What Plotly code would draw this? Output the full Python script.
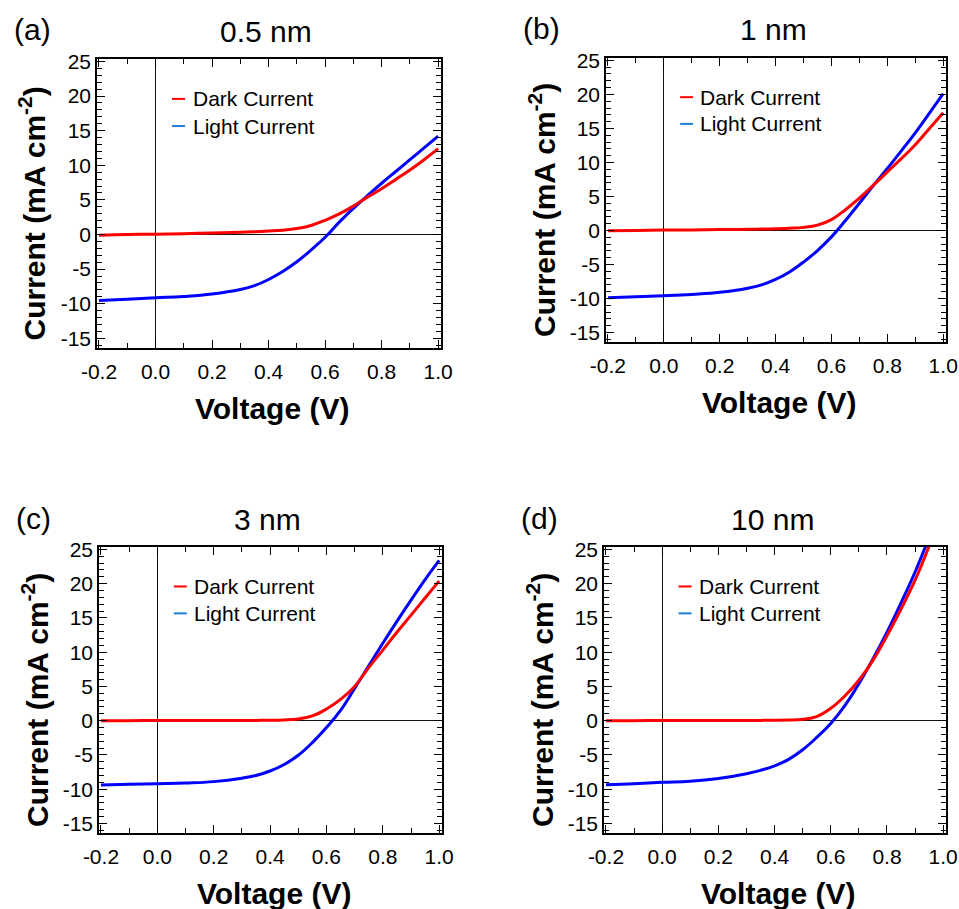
import plotly.graph_objects as go

FONT = "Liberation Sans, Arial, Helvetica, sans-serif"

# Bias voltage (V) at which current density was sampled
voltage = [-0.2, -0.1, 0.0, 0.1, 0.2, 0.3, 0.35, 0.4, 0.45, 0.5,
           0.55, 0.6, 0.65, 0.7, 0.75, 0.8, 0.85, 0.9, 0.95, 1.0]
voltage_10nm = [-0.2, -0.1, 0.0, 0.1, 0.2, 0.3, 0.35, 0.4, 0.45, 0.5,
                0.55, 0.6, 0.65, 0.7, 0.75, 0.8, 0.85, 0.9, 0.95]

# Current density (mA cm^-2), dark and illuminated, per interlayer thickness
dark_05nm = [-0.1, 0.0, 0.05, 0.12, 0.22, 0.32, 0.4, 0.5, 0.62, 0.85,
             1.3, 2.05, 2.97, 4.1, 5.4, 6.6, 7.95, 9.3, 10.8, 12.4]
light_05nm = [-9.55, -9.35, -9.15, -8.95, -8.6, -7.95, -7.4, -6.5, -5.35, -3.95,
              -2.25, -0.4, 1.78, 3.77, 5.6, 7.4, 9.1, 10.8, 12.5, 14.2]

dark_1nm = [-0.05, 0.0, 0.05, 0.08, 0.12, 0.17, 0.2, 0.25, 0.32, 0.45,
            0.78, 1.6, 3.05, 4.75, 6.65, 8.6, 10.55, 12.6, 14.95, 17.3]
light_1nm = [-9.9, -9.75, -9.6, -9.4, -9.1, -8.5, -8.0, -7.2, -6.1, -4.65,
             -2.95, -0.95, 1.45, 4.0, 6.6, 9.1, 11.7, 14.35, 17.2, 20.1]

dark_3nm = [0.0, 0.0, 0.02, 0.02, 0.03, 0.03, 0.04, 0.05, 0.1, 0.25,
            0.7, 1.7, 3.1, 5.0, 7.75, 10.3, 12.9, 15.4, 17.9, 20.4]
light_3nm = [-9.4, -9.3, -9.2, -9.1, -8.9, -8.4, -8.0, -7.35, -6.4, -5.05,
             -3.2, -1.0, 1.5, 4.7, 8.0, 11.3, 14.5, 17.6, 20.6, 23.4]

dark_10nm = [0.0, 0.0, 0.02, 0.02, 0.03, 0.03, 0.04, 0.05, 0.08, 0.2,
             0.6, 1.8, 3.6, 5.9, 8.8, 12.4, 16.3, 20.5, 25.5]
light_10nm = [-9.35, -9.2, -9.0, -8.85, -8.45, -7.75, -7.25, -6.6, -5.65, -4.25,
              -2.45, -0.4, 2.2, 5.4, 9.0, 12.9, 17.2, 21.7, 26.8]

panel_letters = ["(a)", "(b)", "(c)", "(d)"]
panel_titles = ["0.5 nm", "1 nm", "3 nm", "10 nm"]
series_names = ["Dark Current", "Light Current"]

x_ticks = [-0.2, 0.0, 0.2, 0.4, 0.6, 0.8, 1.0]
x_ticktext = ["-0.2", "0.0", "0.2", "0.4", "0.6", "0.8", "1.0"]
y_ticks = [-15, -10, -5, 0, 5, 10, 15, 20, 25]
y_ticktext = ["-15", "-10", "-5", "0", "5", "10", "15", "20", "25"]

panels = [
    (voltage, dark_05nm, voltage, light_05nm),
    (voltage, dark_1nm, voltage, light_1nm),
    (voltage, dark_3nm, voltage, light_3nm),
    (voltage_10nm, dark_10nm, voltage_10nm, light_10nm),
]

W, H = 959, 909

# plot-area boxes in pixels: (left, right, top, bottom)
boxes = [(97, 441, 59, 348), (606, 946, 58, 342),
         (99, 442, 547, 833), (604, 946, 547, 833)]

DARK_COLOR = "#ff0000"
LIGHT_COLOR = "#0000ff"
LEGEND_LIGHT = "#1f7fd6"

fig = go.Figure()
layout = dict(
    width=W, height=H,
    margin=dict(l=0, r=0, t=0, b=0, autoexpand=False),
    paper_bgcolor="white", plot_bgcolor="white",
    showlegend=False,
    font=dict(family=FONT, color="black"),
)

annotations = []
shapes = []


def px(x):
    return x / W


def py(y):
    return 1 - y / H


for i, (vd, jd, vl, jl) in enumerate(panels):
    n = "" if i == 0 else str(i + 1)
    xname, yname = "xaxis" + n, "yaxis" + n
    xref, yref = "x" + n, "y" + n
    left, right, top, bottom = boxes[i]

    fig.add_trace(go.Scatter(x=vl, y=jl, mode="lines", name=series_names[1],
                             line=dict(color=LIGHT_COLOR, width=3, shape="spline", smoothing=1.2),
                             xaxis=xref, yaxis=yref))
    fig.add_trace(go.Scatter(x=vd, y=jd, mode="lines", name=series_names[0],
                             line=dict(color=DARK_COLOR, width=3, shape="spline", smoothing=1.2),
                             xaxis=xref, yaxis=yref))

    common = dict(
        showline=True, linecolor="black", linewidth=1.5, mirror="allticks",
        ticks="inside", ticklen=8, tickwidth=1, tickcolor="black",
        showgrid=False, zeroline=True, zerolinecolor="#111111", zerolinewidth=1.3,
        tickfont=dict(family=FONT, size=21, color="black"),
        fixedrange=True, automargin=False,
    )
    layout[xname] = dict(
        common, domain=[px(left), px(right)], anchor=yref,
        range=[-0.207, 1.01], tickmode="array", tickvals=x_ticks, ticktext=x_ticktext,
        minor=dict(dtick=0.1, tick0=0, ticks="inside", ticklen=5, tickcolor="black", tickwidth=1),
        ticklabelstandoff=4,
    )
    layout[yname] = dict(
        common, domain=[py(bottom), py(top)], anchor=xref,
        range=[-16.4, 25.35], tickmode="array", tickvals=y_ticks, ticktext=y_ticktext,
        minor=dict(dtick=1, tick0=0, ticks="inside", ticklen=5, tickcolor="black", tickwidth=1),
    )

    cx = (left + right) / 2
    # panel letter and thickness title
    annotations.append(dict(text=panel_letters[i], x=px(left - 85), y=py(top - 29),
                            xref="paper", yref="paper", xanchor="left", yanchor="middle",
                            showarrow=False, font=dict(size=30, family=FONT, color="black")))
    annotations.append(dict(text=panel_titles[i], x=px(cx - 3), y=py(top - 28),
                            xref="paper", yref="paper", xanchor="center", yanchor="middle",
                            showarrow=False, font=dict(size=30, family=FONT, color="black")))
    # axis titles
    annotations.append(dict(text="<b>Voltage (V)</b>", x=px(cx + 3), y=py(bottom + 60),
                            xref="paper", yref="paper", xanchor="center", yanchor="middle",
                            showarrow=False, font=dict(size=30, family=FONT, color="black")))
    annotations.append(dict(text="<b>Current (mA cm<sup>-2</sup>)</b>", x=px(left - 64),
                            y=py((top + bottom) / 2 + 10), textangle=-90,
                            xref="paper", yref="paper", xanchor="center", yanchor="middle",
                            showarrow=False, font=dict(size=30, family=FONT, color="black")))

    # legend: short colored line + label, placed in axis-domain coordinates
    for k, (name, col) in enumerate(zip(series_names, [DARK_COLOR, LEGEND_LIGHT])):
        yy = 0.862 - k * 0.094
        shapes.append(dict(type="line", xref=xref + " domain", yref=yref + " domain",
                           x0=0.218, x1=0.256, y0=yy, y1=yy,
                           line=dict(color=col, width=2)))
        annotations.append(dict(text=name, xref=xref + " domain", yref=yref + " domain",
                                x=0.272, y=yy, xanchor="left", yanchor="middle",
                                showarrow=False,
                                font=dict(size=21, family=FONT, color="black")))

layout["annotations"] = annotations
layout["shapes"] = shapes
fig.update_layout(**layout)

fig.write_html("out.html")
